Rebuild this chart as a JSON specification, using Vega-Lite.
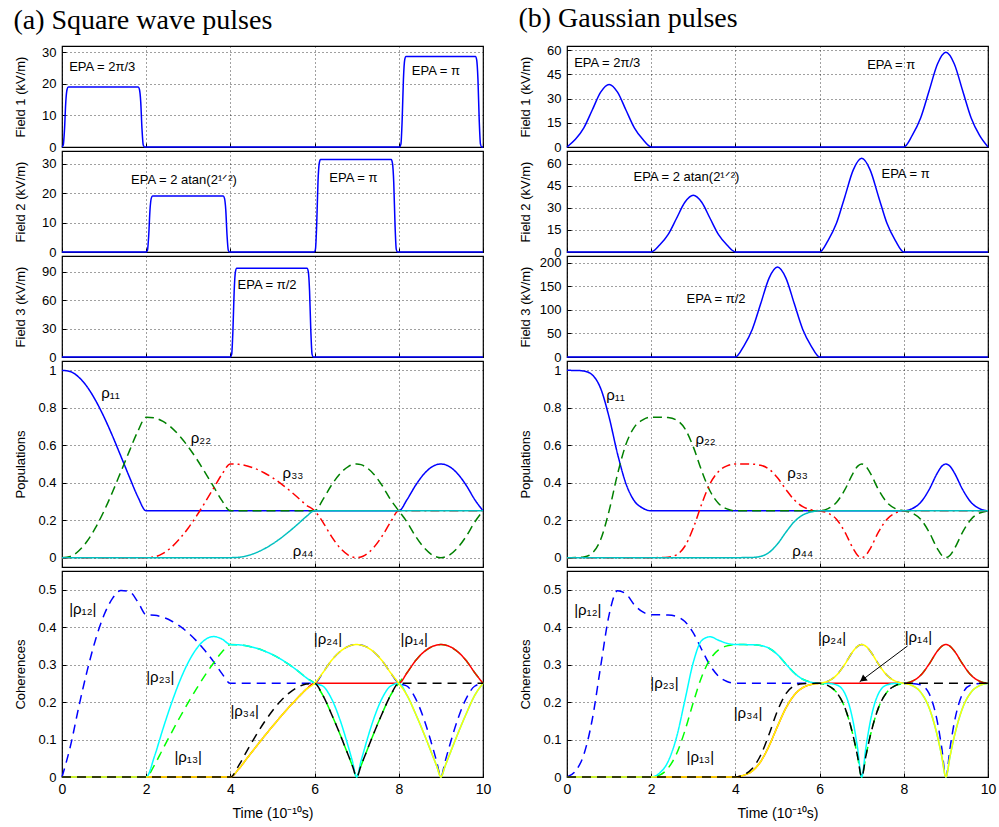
{
"$schema": "https://vega.github.io/schema/vega-lite/v6.json",
"padding": {"top": 5, "left": 13, "right": 5, "bottom": 5},
"spacing": 26,
"resolve": {"scale": {"color": "independent", "strokeDash": "independent"}},
"datasets": {
"fa": [
{"f":"F1","t":0,"v":0},{"f":"F1","t":0.03,"v":0.6},{"f":"F1","t":0.06,"v":5.7},{"f":"F1","t":0.09,"v":14.3},{"f":"F1","t":0.12,"v":18.2},{"f":"F1","t":0.15,"v":19},{"f":"F1","t":1.81,"v":19},{"f":"F1","t":1.84,"v":18.2},{"f":"F1","t":1.87,"v":14.3},{"f":"F1","t":1.9,"v":5.7},{"f":"F1","t":1.93,"v":0.6},{"f":"F1","t":1.96,"v":0},{"f":"F1","t":8.02,"v":0},{"f":"F1","t":8.05,"v":0.9},{"f":"F1","t":8.08,"v":8.6},{"f":"F1","t":8.11,"v":21.5},{"f":"F1","t":8.14,"v":27.6},{"f":"F1","t":8.17,"v":28.7},{"f":"F1","t":9.82,"v":28.7},{"f":"F1","t":9.85,"v":27.6},{"f":"F1","t":9.88,"v":21.5},{"f":"F1","t":9.91,"v":8.6},{"f":"F1","t":9.94,"v":0.9},{"f":"F1","t":9.97,"v":0},{"f":"F1","t":10,"v":0},
{"f":"F2","t":0,"v":0},{"f":"F2","t":2.0,"v":0},{"f":"F2","t":2.03,"v":0.6},{"f":"F2","t":2.06,"v":5.7},{"f":"F2","t":2.09,"v":14.3},{"f":"F2","t":2.12,"v":18.2},{"f":"F2","t":2.15,"v":19},{"f":"F2","t":3.83,"v":19},{"f":"F2","t":3.86,"v":18.2},{"f":"F2","t":3.89,"v":14.3},{"f":"F2","t":3.92,"v":5.7},{"f":"F2","t":3.95,"v":0.6},{"f":"F2","t":3.98,"v":0},{"f":"F2","t":5.99,"v":0},{"f":"F2","t":6.02,"v":0.9},{"f":"F2","t":6.05,"v":9.4},{"f":"F2","t":6.08,"v":23.6},{"f":"F2","t":6.11,"v":30.1},{"f":"F2","t":6.14,"v":31.4},{"f":"F2","t":7.82,"v":31.4},{"f":"F2","t":7.85,"v":30.1},{"f":"F2","t":7.88,"v":23.6},{"f":"F2","t":7.91,"v":9.4},{"f":"F2","t":7.94,"v":0.9},{"f":"F2","t":7.97,"v":0},{"f":"F2","t":10,"v":0},
{"f":"F3","t":0,"v":0},{"f":"F3","t":4.0,"v":0},{"f":"F3","t":4.03,"v":2.8},{"f":"F3","t":4.06,"v":28},{"f":"F3","t":4.09,"v":70},{"f":"F3","t":4.12,"v":90},{"f":"F3","t":4.15,"v":93.5},{"f":"F3","t":5.82,"v":93.5},{"f":"F3","t":5.85,"v":90},{"f":"F3","t":5.88,"v":70},{"f":"F3","t":5.91,"v":28},{"f":"F3","t":5.94,"v":2.8},{"f":"F3","t":5.97,"v":0},{"f":"F3","t":10,"v":0}
],
"fb": [
{"f":"F1","t":0,"v":0},{"f":"F1","t":0.2,"v":4.73},{"f":"F1","t":0.4,"v":11.86},{"f":"F1","t":0.6,"v":22.9},{"f":"F1","t":0.8,"v":33.98},{"f":"F1","t":1.0,"v":38.75},{"f":"F1","t":1.2,"v":33.98},{"f":"F1","t":1.4,"v":22.9},{"f":"F1","t":1.6,"v":11.86},{"f":"F1","t":1.8,"v":4.73},{"f":"F1","t":2.0,"v":0},{"f":"F1","t":8.0,"v":0},{"f":"F1","t":8.2,"v":7.15},{"f":"F1","t":8.4,"v":17.93},{"f":"F1","t":8.6,"v":34.63},{"f":"F1","t":8.8,"v":51.39},{"f":"F1","t":9.0,"v":58.6},{"f":"F1","t":9.2,"v":51.39},{"f":"F1","t":9.4,"v":34.63},{"f":"F1","t":9.6,"v":17.93},{"f":"F1","t":9.8,"v":7.15},{"f":"F1","t":10,"v":0},
{"f":"F2","t":0,"v":0},{"f":"F2","t":2.0,"v":0},{"f":"F2","t":2.2,"v":4.7},{"f":"F2","t":2.4,"v":11.78},{"f":"F2","t":2.6,"v":22.75},{"f":"F2","t":2.8,"v":33.76},{"f":"F2","t":3.0,"v":38.5},{"f":"F2","t":3.2,"v":33.76},{"f":"F2","t":3.4,"v":22.75},{"f":"F2","t":3.6,"v":11.78},{"f":"F2","t":3.8,"v":4.7},{"f":"F2","t":4.0,"v":0},{"f":"F2","t":6.0,"v":0},{"f":"F2","t":6.2,"v":7.76},{"f":"F2","t":6.4,"v":19.46},{"f":"F2","t":6.6,"v":37.59},{"f":"F2","t":6.8,"v":55.78},{"f":"F2","t":7.0,"v":63.6},{"f":"F2","t":7.2,"v":55.78},{"f":"F2","t":7.4,"v":37.59},{"f":"F2","t":7.6,"v":19.46},{"f":"F2","t":7.8,"v":7.76},{"f":"F2","t":8.0,"v":0},{"f":"F2","t":10,"v":0},
{"f":"F3","t":0,"v":0},{"f":"F3","t":4.0,"v":0},{"f":"F3","t":4.2,"v":23.25},{"f":"F3","t":4.4,"v":58.32},{"f":"F3","t":4.6,"v":112.6},{"f":"F3","t":4.8,"v":167.2},{"f":"F3","t":5.0,"v":190.6},{"f":"F3","t":5.2,"v":167.2},{"f":"F3","t":5.4,"v":112.6},{"f":"F3","t":5.6,"v":58.32},{"f":"F3","t":5.8,"v":23.25},{"f":"F3","t":6.0,"v":0},{"f":"F3","t":10,"v":0}
],
"A": [
{"t":0,"p11":1,"p22":0,"p33":0,"p44":0,"c12":0,"c13":0,"c14":0,"c23":0,"c24":0,"c34":0},
{"t":0.2,"p11":0.9932,"p22":0.0068,"p33":0,"p44":0,"c12":0.0823,"c13":0,"c14":0,"c23":0,"c24":0,"c34":0},
{"t":0.4,"p11":0.9633,"p22":0.0367,"p33":0,"p44":0,"c12":0.188,"c13":0,"c14":0,"c23":0,"c24":0,"c34":0},
{"t":0.6,"p11":0.9112,"p22":0.0888,"p33":0,"p44":0,"c12":0.2845,"c13":0,"c14":0,"c23":0,"c24":0,"c34":0},
{"t":0.8,"p11":0.8385,"p22":0.1615,"p33":0,"p44":0,"c12":0.368,"c13":0,"c14":0,"c23":0,"c24":0,"c34":0},
{"t":1.0,"p11":0.75,"p22":0.25,"p33":0,"p44":0,"c12":0.433,"c13":0,"c14":0,"c23":0,"c24":0,"c34":0},
{"t":1.2,"p11":0.6495,"p22":0.3505,"p33":0,"p44":0,"c12":0.477,"c13":0,"c14":0,"c23":0,"c24":0,"c34":0},
{"t":1.4,"p11":0.5407,"p22":0.4593,"p33":0,"p44":0,"c12":0.498,"c13":0,"c14":0,"c23":0,"c24":0,"c34":0},
{"t":1.6,"p11":0.4312,"p22":0.5688,"p33":0,"p44":0,"c12":0.495,"c13":0,"c14":0,"c23":0,"c24":0,"c34":0},
{"t":1.8,"p11":0.3256,"p22":0.6744,"p33":0,"p44":0,"c12":0.468,"c13":0,"c14":0,"c23":0,"c24":0,"c34":0},
{"t":2.0,"p11":0.25,"p22":0.75,"p33":0,"p44":0,"c12":0.433,"c13":0,"c14":0,"c23":0,"c24":0,"c34":0},
{"t":2.2,"p11":0.25,"p22":0.7457,"p33":0.0043,"p44":0,"c12":0.4318,"c13":0.0328,"c14":0,"c23":0.0564,"c24":0,"c34":0},
{"t":2.4,"p11":0.25,"p22":0.7271,"p33":0.0229,"p44":0,"c12":0.4264,"c13":0.0757,"c14":0,"c23":0.1292,"c24":0,"c34":0},
{"t":2.6,"p11":0.25,"p22":0.6943,"p33":0.0557,"p44":0,"c12":0.4166,"c13":0.118,"c14":0,"c23":0.1967,"c24":0,"c34":0},
{"t":2.8,"p11":0.25,"p22":0.6482,"p33":0.1018,"p44":0,"c12":0.4026,"c13":0.1595,"c14":0,"c23":0.2569,"c24":0,"c34":0},
{"t":3.0,"p11":0.25,"p22":0.5915,"p33":0.1585,"p44":0,"c12":0.3846,"c13":0.199,"c14":0,"c23":0.3062,"c24":0,"c34":0},
{"t":3.2,"p11":0.25,"p22":0.5261,"p33":0.2239,"p44":0,"c12":0.3627,"c13":0.2366,"c14":0,"c23":0.3432,"c24":0,"c34":0},
{"t":3.4,"p11":0.25,"p22":0.4541,"p33":0.2959,"p44":0,"c12":0.3369,"c13":0.272,"c14":0,"c23":0.3666,"c24":0,"c34":0},
{"t":3.6,"p11":0.25,"p22":0.3795,"p33":0.3705,"p44":0,"c12":0.308,"c13":0.3043,"c14":0,"c23":0.375,"c24":0,"c34":0},
{"t":3.8,"p11":0.25,"p22":0.3046,"p33":0.4454,"p44":0,"c12":0.276,"c13":0.3337,"c14":0,"c23":0.3683,"c24":0,"c34":0},
{"t":4.0,"p11":0.25,"p22":0.25,"p33":0.5,"p44":0,"c12":0.25,"c13":0.3536,"c14":0,"c23":0.3536,"c24":0,"c34":0},
{"t":4.2,"p11":0.25,"p22":0.25,"p33":0.4981,"p44":0.0019,"c12":0.25,"c13":0.3529,"c14":0.0218,"c23":0.3529,"c24":0.0218,"c34":0.0309},
{"t":4.4,"p11":0.25,"p22":0.25,"p33":0.4897,"p44":0.0103,"c12":0.25,"c13":0.3499,"c14":0.0507,"c23":0.3499,"c24":0.0507,"c34":0.0713},
{"t":4.6,"p11":0.25,"p22":0.25,"p33":0.4747,"p44":0.0253,"c12":0.25,"c13":0.3445,"c14":0.0795,"c23":0.3445,"c24":0.0795,"c34":0.1097},
{"t":4.8,"p11":0.25,"p22":0.25,"p33":0.4534,"p44":0.0466,"c12":0.25,"c13":0.3367,"c14":0.1079,"c23":0.3367,"c24":0.1079,"c34":0.1454},
{"t":5.0,"p11":0.25,"p22":0.25,"p33":0.4268,"p44":0.0732,"c12":0.25,"c13":0.3267,"c14":0.1353,"c23":0.3267,"c24":0.1353,"c34":0.1768},
{"t":5.2,"p11":0.25,"p22":0.25,"p33":0.3953,"p44":0.1047,"c12":0.25,"c13":0.3144,"c14":0.1618,"c23":0.3144,"c24":0.1618,"c34":0.2035},
{"t":5.4,"p11":0.25,"p22":0.25,"p33":0.3596,"p44":0.1404,"c12":0.25,"c13":0.2998,"c14":0.1873,"c23":0.2998,"c24":0.1873,"c34":0.2247},
{"t":5.6,"p11":0.25,"p22":0.25,"p33":0.3212,"p44":0.1788,"c12":0.25,"c13":0.2834,"c14":0.2114,"c23":0.2834,"c24":0.2114,"c34":0.2396},
{"t":5.8,"p11":0.25,"p22":0.25,"p33":0.2811,"p44":0.2189,"c12":0.25,"c13":0.2651,"c14":0.2339,"c23":0.2651,"c24":0.2339,"c34":0.2481},
{"t":6.0,"p11":0.25,"p22":0.25,"p33":0.25,"p44":0.25,"c12":0.25,"c13":0.25,"c14":0.25,"c23":0.25,"c24":0.25,"c34":0.25},
{"t":6.2,"p11":0.25,"p22":0.3114,"p33":0.1886,"p44":0.25,"c12":0.2791,"c13":0.2172,"c14":0.25,"c23":0.2423,"c24":0.2791,"c34":0.2172},
{"t":6.4,"p11":0.25,"p22":0.3866,"p33":0.1134,"p44":0.25,"c12":0.3109,"c13":0.1684,"c14":0.25,"c23":0.2094,"c24":0.3109,"c34":0.1684},
{"t":6.6,"p11":0.25,"p22":0.4471,"p33":0.0529,"p44":0.25,"c12":0.3343,"c13":0.115,"c14":0.25,"c23":0.1538,"c24":0.3343,"c34":0.115},
{"t":6.8,"p11":0.25,"p22":0.4865,"p33":0.0135,"p44":0.25,"c12":0.3488,"c13":0.0581,"c14":0.25,"c23":0.0811,"c24":0.3488,"c34":0.0581},
{"t":6.9,"p11":0.25,"p22":0.4966,"p33":0.0034,"p44":0.25,"c12":0.3523,"c13":0.0293,"c14":0.25,"c23":0.0413,"c24":0.3523,"c34":0.0293},
{"t":7.0,"p11":0.25,"p22":0.5,"p33":0,"p44":0.25,"c12":0.3536,"c13":0,"c14":0.25,"c23":0,"c24":0.3536,"c34":0},
{"t":7.1,"p11":0.25,"p22":0.4966,"p33":0.0034,"p44":0.25,"c12":0.3523,"c13":0.0293,"c14":0.25,"c23":0.0413,"c24":0.3523,"c34":0.0293},
{"t":7.2,"p11":0.25,"p22":0.4865,"p33":0.0135,"p44":0.25,"c12":0.3488,"c13":0.0581,"c14":0.25,"c23":0.0811,"c24":0.3488,"c34":0.0581},
{"t":7.4,"p11":0.25,"p22":0.4471,"p33":0.0529,"p44":0.25,"c12":0.3343,"c13":0.115,"c14":0.25,"c23":0.1538,"c24":0.3343,"c34":0.115},
{"t":7.6,"p11":0.25,"p22":0.3866,"p33":0.1134,"p44":0.25,"c12":0.3109,"c13":0.1684,"c14":0.25,"c23":0.2094,"c24":0.3109,"c34":0.1684},
{"t":7.8,"p11":0.25,"p22":0.3114,"p33":0.1886,"p44":0.25,"c12":0.2791,"c13":0.2172,"c14":0.25,"c23":0.2423,"c24":0.2791,"c34":0.2172},
{"t":8.0,"p11":0.25,"p22":0.25,"p33":0.25,"p44":0.25,"c12":0.25,"c13":0.25,"c14":0.25,"c23":0.25,"c24":0.25,"c34":0.25},
{"t":8.2,"p11":0.3114,"p22":0.1886,"p33":0.25,"p44":0.25,"c12":0.2423,"c13":0.2791,"c14":0.2791,"c23":0.2172,"c24":0.2172,"c34":0.25},
{"t":8.4,"p11":0.3866,"p22":0.1134,"p33":0.25,"p44":0.25,"c12":0.2094,"c13":0.3109,"c14":0.3109,"c23":0.1684,"c24":0.1684,"c34":0.25},
{"t":8.6,"p11":0.4471,"p22":0.0529,"p33":0.25,"p44":0.25,"c12":0.1538,"c13":0.3343,"c14":0.3343,"c23":0.115,"c24":0.115,"c34":0.25},
{"t":8.8,"p11":0.4865,"p22":0.0135,"p33":0.25,"p44":0.25,"c12":0.0811,"c13":0.3488,"c14":0.3488,"c23":0.0581,"c24":0.0581,"c34":0.25},
{"t":8.9,"p11":0.4966,"p22":0.0034,"p33":0.25,"p44":0.25,"c12":0.0413,"c13":0.3523,"c14":0.3523,"c23":0.0293,"c24":0.0293,"c34":0.25},
{"t":9.0,"p11":0.5,"p22":0,"p33":0.25,"p44":0.25,"c12":0,"c13":0.3536,"c14":0.3536,"c23":0,"c24":0,"c34":0.25},
{"t":9.1,"p11":0.4966,"p22":0.0034,"p33":0.25,"p44":0.25,"c12":0.0413,"c13":0.3523,"c14":0.3523,"c23":0.0293,"c24":0.0293,"c34":0.25},
{"t":9.2,"p11":0.4865,"p22":0.0135,"p33":0.25,"p44":0.25,"c12":0.0811,"c13":0.3488,"c14":0.3488,"c23":0.0581,"c24":0.0581,"c34":0.25},
{"t":9.4,"p11":0.4471,"p22":0.0529,"p33":0.25,"p44":0.25,"c12":0.1538,"c13":0.3343,"c14":0.3343,"c23":0.115,"c24":0.115,"c34":0.25},
{"t":9.6,"p11":0.3866,"p22":0.1134,"p33":0.25,"p44":0.25,"c12":0.2094,"c13":0.3109,"c14":0.3109,"c23":0.1684,"c24":0.1684,"c34":0.25},
{"t":9.8,"p11":0.3114,"p22":0.1886,"p33":0.25,"p44":0.25,"c12":0.2423,"c13":0.2791,"c14":0.2791,"c23":0.2172,"c24":0.2172,"c34":0.25},
{"t":10.0,"p11":0.25,"p22":0.25,"p33":0.25,"p44":0.25,"c12":0.25,"c13":0.25,"c14":0.25,"c23":0.25,"c24":0.25,"c34":0.25}
],
"B": [
{"t":0,"p11":1,"p22":0,"p33":0,"p44":0,"c12":0,"c13":0,"c14":0,"c23":0,"c24":0,"c34":0},
{"t":0.2,"p11":0.9998,"p22":0.0002,"p33":0,"p44":0,"c12":0.0157,"c13":0,"c14":0,"c23":0,"c24":0,"c34":0},
{"t":0.4,"p11":0.9964,"p22":0.0036,"p33":0,"p44":0,"c12":0.06,"c13":0,"c14":0,"c23":0,"c24":0,"c34":0},
{"t":0.6,"p11":0.9759,"p22":0.0241,"p33":0,"p44":0,"c12":0.1535,"c13":0,"c14":0,"c23":0,"c24":0,"c34":0},
{"t":0.8,"p11":0.9032,"p22":0.0968,"p33":0,"p44":0,"c12":0.2957,"c13":0,"c14":0,"c23":0,"c24":0,"c34":0},
{"t":1.0,"p11":0.75,"p22":0.25,"p33":0,"p44":0,"c12":0.433,"c13":0,"c14":0,"c23":0,"c24":0,"c34":0},
{"t":1.2,"p11":0.5544,"p22":0.4456,"p33":0,"p44":0,"c12":0.497,"c13":0,"c14":0,"c23":0,"c24":0,"c34":0},
{"t":1.4,"p11":0.3951,"p22":0.6049,"p33":0,"p44":0,"c12":0.4889,"c13":0,"c14":0,"c23":0,"c24":0,"c34":0},
{"t":1.6,"p11":0.3028,"p22":0.6972,"p33":0,"p44":0,"c12":0.4596,"c13":0,"c14":0,"c23":0,"c24":0,"c34":0},
{"t":1.8,"p11":0.2642,"p22":0.7358,"p33":0,"p44":0,"c12":0.4406,"c13":0,"c14":0,"c23":0,"c24":0,"c34":0},
{"t":2.0,"p11":0.25,"p22":0.75,"p33":0,"p44":0,"c12":0.433,"c13":0,"c14":0,"c23":0,"c24":0,"c34":0},
{"t":2.2,"p11":0.25,"p22":0.7499,"p33":0.0001,"p44":0,"c12":0.433,"c13":0.005,"c14":0,"c23":0.0107,"c24":0,"c34":0},
{"t":2.4,"p11":0.25,"p22":0.7478,"p33":0.0022,"p44":0,"c12":0.4324,"c13":0.0235,"c14":0,"c23":0.041,"c24":0,"c34":0},
{"t":2.6,"p11":0.25,"p22":0.7349,"p33":0.0151,"p44":0,"c12":0.4286,"c13":0.0614,"c14":0,"c23":0.1053,"c24":0,"c34":0},
{"t":2.8,"p11":0.25,"p22":0.6893,"p33":0.0607,"p44":0,"c12":0.4151,"c13":0.1232,"c14":0,"c23":0.2046,"c24":0,"c34":0},
{"t":3.0,"p11":0.25,"p22":0.5915,"p33":0.1585,"p44":0,"c12":0.3846,"c13":0.199,"c14":0,"c23":0.3062,"c24":0,"c34":0},
{"t":3.2,"p11":0.25,"p22":0.4631,"p33":0.2869,"p44":0,"c12":0.3403,"c13":0.2678,"c14":0,"c23":0.3645,"c24":0,"c34":0},
{"t":3.4,"p11":0.25,"p22":0.3544,"p33":0.3956,"p44":0,"c12":0.2977,"c13":0.3145,"c14":0,"c23":0.3744,"c24":0,"c34":0},
{"t":3.6,"p11":0.25,"p22":0.2896,"p33":0.4604,"p44":0,"c12":0.2691,"c13":0.3393,"c14":0,"c23":0.365,"c24":0,"c34":0},
{"t":3.8,"p11":0.25,"p22":0.2601,"p33":0.4899,"p44":0,"c12":0.255,"c13":0.35,"c14":0,"c23":0.3569,"c24":0,"c34":0},
{"t":4.0,"p11":0.25,"p22":0.25,"p33":0.5,"p44":0,"c12":0.25,"c13":0.3536,"c14":0,"c23":0.3536,"c24":0,"c34":0},
{"t":4.2,"p11":0.25,"p22":0.25,"p33":0.4999,"p44":0.0001,"c12":0.25,"c13":0.3535,"c14":0.005,"c23":0.3535,"c24":0.005,"c34":0.0059},
{"t":4.4,"p11":0.25,"p22":0.25,"p33":0.499,"p44":0.001,"c12":0.25,"c13":0.3532,"c14":0.0158,"c23":0.3532,"c24":0.0158,"c34":0.0225},
{"t":4.6,"p11":0.25,"p22":0.25,"p33":0.4932,"p44":0.0068,"c12":0.25,"c13":0.3511,"c14":0.0412,"c23":0.3511,"c24":0.0412,"c34":0.058},
{"t":4.8,"p11":0.25,"p22":0.25,"p33":0.4724,"p44":0.0276,"c12":0.25,"c13":0.3437,"c14":0.0831,"c23":0.3437,"c24":0.0831,"c34":0.1142},
{"t":5.0,"p11":0.25,"p22":0.25,"p33":0.4268,"p44":0.0732,"c12":0.25,"c13":0.3267,"c14":0.1353,"c23":0.3267,"c24":0.1353,"c34":0.1768},
{"t":5.2,"p11":0.25,"p22":0.25,"p33":0.3642,"p44":0.1358,"c12":0.25,"c13":0.3017,"c14":0.1842,"c23":0.3017,"c24":0.1842,"c34":0.2224},
{"t":5.4,"p11":0.25,"p22":0.25,"p33":0.308,"p44":0.192,"c12":0.25,"c13":0.2775,"c14":0.2191,"c23":0.2775,"c24":0.2191,"c34":0.2432},
{"t":5.6,"p11":0.25,"p22":0.25,"p33":0.2724,"p44":0.2276,"c12":0.25,"c13":0.261,"c14":0.2385,"c23":0.261,"c24":0.2385,"c34":0.249},
{"t":5.8,"p11":0.25,"p22":0.25,"p33":0.256,"p44":0.244,"c12":0.25,"c13":0.253,"c14":0.247,"c23":0.253,"c24":0.247,"c34":0.2499},
{"t":6.0,"p11":0.25,"p22":0.25,"p33":0.25,"p44":0.25,"c12":0.25,"c13":0.25,"c14":0.25,"c23":0.25,"c24":0.25,"c34":0.25},
{"t":6.2,"p11":0.25,"p22":0.2618,"p33":0.2382,"p44":0.25,"c12":0.2558,"c13":0.2441,"c14":0.25,"c23":0.2497,"c24":0.2558,"c34":0.2441},
{"t":6.4,"p11":0.25,"p22":0.2948,"p33":0.2052,"p44":0.25,"c12":0.2715,"c13":0.2265,"c14":0.25,"c23":0.246,"c24":0.2715,"c34":0.2265},
{"t":6.6,"p11":0.25,"p22":0.3628,"p33":0.1372,"p44":0.25,"c12":0.3012,"c13":0.1852,"c14":0.25,"c23":0.2231,"c24":0.3012,"c34":0.1852},
{"t":6.8,"p11":0.25,"p22":0.4532,"p33":0.0468,"p44":0.25,"c12":0.3366,"c13":0.1083,"c14":0.25,"c23":0.1457,"c24":0.3366,"c34":0.1083},
{"t":6.9,"p11":0.25,"p22":0.4873,"p33":0.0127,"p44":0.25,"c12":0.349,"c13":0.0564,"c14":0.25,"c23":0.0788,"c24":0.349,"c34":0.0564},
{"t":7.0,"p11":0.25,"p22":0.5,"p33":0,"p44":0.25,"c12":0.3536,"c13":0,"c14":0.25,"c23":0,"c24":0.3536,"c34":0},
{"t":7.1,"p11":0.25,"p22":0.4873,"p33":0.0127,"p44":0.25,"c12":0.349,"c13":0.0564,"c14":0.25,"c23":0.0788,"c24":0.349,"c34":0.0564},
{"t":7.2,"p11":0.25,"p22":0.4532,"p33":0.0468,"p44":0.25,"c12":0.3366,"c13":0.1083,"c14":0.25,"c23":0.1457,"c24":0.3366,"c34":0.1083},
{"t":7.4,"p11":0.25,"p22":0.3628,"p33":0.1372,"p44":0.25,"c12":0.3012,"c13":0.1852,"c14":0.25,"c23":0.2231,"c24":0.3012,"c34":0.1852},
{"t":7.6,"p11":0.25,"p22":0.2948,"p33":0.2052,"p44":0.25,"c12":0.2715,"c13":0.2265,"c14":0.25,"c23":0.246,"c24":0.2715,"c34":0.2265},
{"t":7.8,"p11":0.25,"p22":0.2618,"p33":0.2382,"p44":0.25,"c12":0.2558,"c13":0.2441,"c14":0.25,"c23":0.2497,"c24":0.2558,"c34":0.2441},
{"t":8.0,"p11":0.25,"p22":0.25,"p33":0.25,"p44":0.25,"c12":0.25,"c13":0.25,"c14":0.25,"c23":0.25,"c24":0.25,"c34":0.25},
{"t":8.2,"p11":0.2618,"p22":0.2382,"p33":0.25,"p44":0.25,"c12":0.2497,"c13":0.2558,"c14":0.2558,"c23":0.2441,"c24":0.2441,"c34":0.25},
{"t":8.4,"p11":0.2948,"p22":0.2052,"p33":0.25,"p44":0.25,"c12":0.246,"c13":0.2715,"c14":0.2715,"c23":0.2265,"c24":0.2265,"c34":0.25},
{"t":8.6,"p11":0.3628,"p22":0.1372,"p33":0.25,"p44":0.25,"c12":0.2231,"c13":0.3012,"c14":0.3012,"c23":0.1852,"c24":0.1852,"c34":0.25},
{"t":8.8,"p11":0.4532,"p22":0.0468,"p33":0.25,"p44":0.25,"c12":0.1457,"c13":0.3366,"c14":0.3366,"c23":0.1083,"c24":0.1083,"c34":0.25},
{"t":8.9,"p11":0.4873,"p22":0.0127,"p33":0.25,"p44":0.25,"c12":0.0788,"c13":0.349,"c14":0.349,"c23":0.0564,"c24":0.0564,"c34":0.25},
{"t":9.0,"p11":0.5,"p22":0,"p33":0.25,"p44":0.25,"c12":0,"c13":0.3536,"c14":0.3536,"c23":0,"c24":0,"c34":0.25},
{"t":9.1,"p11":0.4873,"p22":0.0127,"p33":0.25,"p44":0.25,"c12":0.0788,"c13":0.349,"c14":0.349,"c23":0.0564,"c24":0.0564,"c34":0.25},
{"t":9.2,"p11":0.4532,"p22":0.0468,"p33":0.25,"p44":0.25,"c12":0.1457,"c13":0.3366,"c14":0.3366,"c23":0.1083,"c24":0.1083,"c34":0.25},
{"t":9.4,"p11":0.3628,"p22":0.1372,"p33":0.25,"p44":0.25,"c12":0.2231,"c13":0.3012,"c14":0.3012,"c23":0.1852,"c24":0.1852,"c34":0.25},
{"t":9.6,"p11":0.2948,"p22":0.2052,"p33":0.25,"p44":0.25,"c12":0.246,"c13":0.2715,"c14":0.2715,"c23":0.2265,"c24":0.2265,"c34":0.25},
{"t":9.8,"p11":0.2618,"p22":0.2382,"p33":0.25,"p44":0.25,"c12":0.2497,"c13":0.2558,"c14":0.2558,"c23":0.2441,"c24":0.2441,"c34":0.25},
{"t":10.0,"p11":0.25,"p22":0.25,"p33":0.25,"p44":0.25,"c12":0.25,"c13":0.25,"c14":0.25,"c23":0.25,"c24":0.25,"c34":0.25}
]
},
"hconcat": [
{
"title": {"text": "(a) Square wave pulses", "anchor": "start", "font": "Liberation Serif", "fontSize": 28, "fontWeight": "normal", "color": "#000", "offset": 10},
"spacing": 4,
"bounds": "flush",
"resolve": {"scale": {"color": "independent", "strokeDash": "independent"}},
"vconcat": [
{"width": 421, "height": 101, "layer": [
 {"data": {"name": "fa"}, "transform": [{"filter": "datum.f == 'F1'"}], "mark": {"type": "line", "color": "#0000ff", "strokeWidth": 1.5, "interpolate": "monotone"},
  "encoding": {"x": {"field": "t", "type": "quantitative", "scale": {"domain": [0, 10], "nice": false}, "axis": {"values": [0, 2, 4, 6, 8, 10], "tickCount": 20, "labels": false, "title": null}},
   "y": {"field": "v", "type": "quantitative", "scale": {"domain": [0, 32], "nice": false}, "axis": {"values": [0, 10, 20, 30], "tickCount": 20, "format": "~r", "title": "Field 1 (kV/m)", "titleX": -35}}}},
 {"data": {"values": [{"t": 0.17, "v": 25.5, "s": "EPA = 2π/3"}, {"t": 8.31, "v": 24.2, "s": "EPA = π"}]}, "mark": {"type": "text", "align": "left", "baseline": "middle"},
  "encoding": {"x": {"field": "t", "type": "quantitative"}, "y": {"field": "v", "type": "quantitative"}, "text": {"field": "s"}}}
]},
{"width": 421, "height": 101, "layer": [
 {"data": {"name": "fa"}, "transform": [{"filter": "datum.f == 'F2'"}], "mark": {"type": "line", "color": "#0000ff", "strokeWidth": 1.5, "interpolate": "monotone"},
  "encoding": {"x": {"field": "t", "type": "quantitative", "scale": {"domain": [0, 10], "nice": false}, "axis": {"values": [0, 2, 4, 6, 8, 10], "tickCount": 20, "labels": false, "title": null}},
   "y": {"field": "v", "type": "quantitative", "scale": {"domain": [0, 34.3], "nice": false}, "axis": {"values": [0, 10, 20, 30], "tickCount": 20, "format": "~r", "title": "Field 2 (kV/m)", "titleX": -35}}}},
 {"data": {"values": [{"t": 1.64, "v": 24.6, "s": "EPA = 2 atan(2¹ᐟ²)"}, {"t": 6.35, "v": 25.2, "s": "EPA = π"}]}, "mark": {"type": "text", "align": "left", "baseline": "middle"},
  "encoding": {"x": {"field": "t", "type": "quantitative"}, "y": {"field": "v", "type": "quantitative"}, "text": {"field": "s"}}}
]},
{"width": 421, "height": 101, "layer": [
 {"data": {"name": "fa"}, "transform": [{"filter": "datum.f == 'F3'"}], "mark": {"type": "line", "color": "#0000ff", "strokeWidth": 1.5, "interpolate": "monotone"},
  "encoding": {"x": {"field": "t", "type": "quantitative", "scale": {"domain": [0, 10], "nice": false}, "axis": {"values": [0, 2, 4, 6, 8, 10], "tickCount": 20, "labels": false, "title": null}},
   "y": {"field": "v", "type": "quantitative", "scale": {"domain": [0, 106.5], "nice": false}, "axis": {"values": [0, 30, 60, 90], "tickCount": 20, "format": "~r", "title": "Field 3 (kV/m)", "titleX": -35}}}},
 {"data": {"values": [{"t": 4.17, "v": 75.8, "s": "EPA = π/2"}]}, "mark": {"type": "text", "align": "left", "baseline": "middle"},
  "encoding": {"x": {"field": "t", "type": "quantitative"}, "y": {"field": "v", "type": "quantitative"}, "text": {"field": "s"}}}
]},
{"width": 421, "height": 206, "layer": [
 {"data": {"name": "A"}, "transform": [{"fold": ["p11", "p22", "p33", "p44"], "as": ["k", "v"]}], "mark": {"type": "line", "strokeWidth": 1.5, "interpolate": "monotone"},
  "encoding": {"x": {"field": "t", "type": "quantitative", "scale": {"domain": [0, 10], "nice": false}, "axis": {"values": [0, 2, 4, 6, 8, 10], "tickCount": 20, "labels": false, "title": null}},
   "y": {"field": "v", "type": "quantitative", "scale": {"domain": [-0.05, 1.05], "nice": false, "zero": false}, "axis": {"values": [0, 0.2, 0.4, 0.6, 0.8, 1], "tickCount": 20, "format": "~r", "title": "Populations", "titleX": -35}},
   "color": {"field": "k", "type": "nominal", "scale": {"domain": ["p11", "p22", "p33", "p44"], "range": ["#0000ff", "#008000", "#ff0000", "#00bfbf"]}, "legend": null},
   "strokeDash": {"field": "k", "type": "nominal", "scale": {"domain": ["p11", "p22", "p33", "p44"], "range": [[1, 0], [9, 5], [9, 4, 2, 4], [1, 0]]}, "legend": null}}},
 {"data": {"values": [{"t": 0.93, "v": 0.88, "s": "ρ₁₁"}, {"t": 3.06, "v": 0.64, "s": "ρ₂₂"}, {"t": 5.24, "v": 0.453, "s": "ρ₃₃"}, {"t": 5.48, "v": 0.034, "s": "ρ₄₄"}]}, "mark": {"type": "text", "align": "left", "baseline": "middle", "fontSize": 15},
  "encoding": {"x": {"field": "t", "type": "quantitative"}, "y": {"field": "v", "type": "quantitative"}, "text": {"field": "s"}}}
]},
{"width": 421, "height": 206, "layer": [
 {"data": {"name": "A"}, "transform": [{"fold": ["c12", "c13", "c14", "c23", "c24", "c34"], "as": ["k", "v"]}], "mark": {"type": "line", "strokeWidth": 1.5, "interpolate": "monotone"},
  "encoding": {"x": {"field": "t", "type": "quantitative", "scale": {"domain": [0, 10], "nice": false}, "axis": {"values": [0, 2, 4, 6, 8, 10], "tickCount": 20, "format": "~r", "title": "Time (10⁻¹⁰s)"}},
   "y": {"field": "v", "type": "quantitative", "scale": {"domain": [0, 0.55], "nice": false}, "axis": {"values": [0, 0.1, 0.2, 0.3, 0.4, 0.5], "tickCount": 20, "format": "~r", "title": "Coherences", "titleX": -35}},
   "color": {"field": "k", "type": "nominal", "scale": {"domain": ["c12", "c13", "c14", "c23", "c24", "c34"], "range": ["#0000ff", "#00ff00", "#ff0000", "#00ffff", "#ffff00", "#000000"]}, "legend": null},
   "strokeDash": {"field": "k", "type": "nominal", "scale": {"domain": ["c12", "c13", "c14", "c23", "c24", "c34"], "range": [[9, 6], [9, 6], [1, 0], [1, 0], [1, 0], [9, 6]]}, "legend": null}}},
 {"data": {"values": [{"t": 0.17, "v": 0.448, "s": "|ρ₁₂|"}, {"t": 2.0, "v": 0.266, "s": "|ρ₂₃|"}, {"t": 2.67, "v": 0.053, "s": "|ρ₁₃|"}, {"t": 4.0, "v": 0.177, "s": "|ρ₃₄|"}, {"t": 5.98, "v": 0.368, "s": "|ρ₂₄|"}, {"t": 8.04, "v": 0.368, "s": "|ρ₁₄|"}]}, "mark": {"type": "text", "align": "left", "baseline": "middle", "fontSize": 15},
  "encoding": {"x": {"field": "t", "type": "quantitative"}, "y": {"field": "v", "type": "quantitative"}, "text": {"field": "s"}}}
]}
]
},
{
"title": {"text": "(b) Gaussian pulses", "anchor": "start", "font": "Liberation Serif", "fontSize": 28, "fontWeight": "normal", "color": "#000", "offset": 10},
"spacing": 4,
"bounds": "flush",
"resolve": {"scale": {"color": "independent", "strokeDash": "independent"}},
"vconcat": [
{"width": 421, "height": 101, "layer": [
 {"data": {"name": "fb"}, "transform": [{"filter": "datum.f == 'F1'"}], "mark": {"type": "line", "color": "#0000ff", "strokeWidth": 1.5, "interpolate": "monotone"},
  "encoding": {"x": {"field": "t", "type": "quantitative", "scale": {"domain": [0, 10], "nice": false}, "axis": {"values": [0, 2, 4, 6, 8, 10], "tickCount": 20, "labels": false, "title": null}},
   "y": {"field": "v", "type": "quantitative", "scale": {"domain": [0, 62.5], "nice": false}, "axis": {"values": [0, 15, 30, 45, 60], "tickCount": 20, "format": "~r", "title": "Field 1 (kV/m)", "titleX": -35}}}},
 {"data": {"values": [{"t": 0.17, "v": 51.7, "s": "EPA = 2π/3"}, {"t": 7.13, "v": 50.6, "s": "EPA = π"}]}, "mark": {"type": "text", "align": "left", "baseline": "middle"},
  "encoding": {"x": {"field": "t", "type": "quantitative"}, "y": {"field": "v", "type": "quantitative"}, "text": {"field": "s"}}}
]},
{"width": 421, "height": 101, "layer": [
 {"data": {"name": "fb"}, "transform": [{"filter": "datum.f == 'F2'"}], "mark": {"type": "line", "color": "#0000ff", "strokeWidth": 1.5, "interpolate": "monotone"},
  "encoding": {"x": {"field": "t", "type": "quantitative", "scale": {"domain": [0, 10], "nice": false}, "axis": {"values": [0, 2, 4, 6, 8, 10], "tickCount": 20, "labels": false, "title": null}},
   "y": {"field": "v", "type": "quantitative", "scale": {"domain": [0, 68.6], "nice": false}, "axis": {"values": [0, 15, 30, 45, 60], "tickCount": 20, "format": "~r", "title": "Field 2 (kV/m)", "titleX": -35}}}},
 {"data": {"values": [{"t": 1.58, "v": 51.1, "s": "EPA = 2 atan(2¹ᐟ²)"}, {"t": 7.47, "v": 52.7, "s": "EPA = π"}]}, "mark": {"type": "text", "align": "left", "baseline": "middle"},
  "encoding": {"x": {"field": "t", "type": "quantitative"}, "y": {"field": "v", "type": "quantitative"}, "text": {"field": "s"}}}
]},
{"width": 421, "height": 101, "layer": [
 {"data": {"name": "fb"}, "transform": [{"filter": "datum.f == 'F3'"}], "mark": {"type": "line", "color": "#0000ff", "strokeWidth": 1.5, "interpolate": "monotone"},
  "encoding": {"x": {"field": "t", "type": "quantitative", "scale": {"domain": [0, 10], "nice": false}, "axis": {"values": [0, 2, 4, 6, 8, 10], "tickCount": 20, "labels": false, "title": null}},
   "y": {"field": "v", "type": "quantitative", "scale": {"domain": [0, 214], "nice": false}, "axis": {"values": [0, 50, 100, 150, 200], "tickCount": 20, "format": "~r", "title": "Field 3 (kV/m)", "titleX": -35}}}},
 {"data": {"values": [{"t": 2.84, "v": 123.4, "s": "EPA = π/2"}]}, "mark": {"type": "text", "align": "left", "baseline": "middle"},
  "encoding": {"x": {"field": "t", "type": "quantitative"}, "y": {"field": "v", "type": "quantitative"}, "text": {"field": "s"}}}
]},
{"width": 421, "height": 206, "layer": [
 {"data": {"name": "B"}, "transform": [{"fold": ["p11", "p22", "p33", "p44"], "as": ["k", "v"]}], "mark": {"type": "line", "strokeWidth": 1.5, "interpolate": "monotone"},
  "encoding": {"x": {"field": "t", "type": "quantitative", "scale": {"domain": [0, 10], "nice": false}, "axis": {"values": [0, 2, 4, 6, 8, 10], "tickCount": 20, "labels": false, "title": null}},
   "y": {"field": "v", "type": "quantitative", "scale": {"domain": [-0.05, 1.05], "nice": false, "zero": false}, "axis": {"values": [0, 0.2, 0.4, 0.6, 0.8, 1], "tickCount": 20, "format": "~r", "title": "Populations", "titleX": -35}},
   "color": {"field": "k", "type": "nominal", "scale": {"domain": ["p11", "p22", "p33", "p44"], "range": ["#0000ff", "#008000", "#ff0000", "#00bfbf"]}, "legend": null},
   "strokeDash": {"field": "k", "type": "nominal", "scale": {"domain": ["p11", "p22", "p33", "p44"], "range": [[1, 0], [9, 5], [9, 4, 2, 4], [1, 0]]}, "legend": null}}},
 {"data": {"values": [{"t": 0.93, "v": 0.87, "s": "ρ₁₁"}, {"t": 3.05, "v": 0.635, "s": "ρ₂₂"}, {"t": 5.23, "v": 0.453, "s": "ρ₃₃"}, {"t": 5.35, "v": 0.034, "s": "ρ₄₄"}]}, "mark": {"type": "text", "align": "left", "baseline": "middle", "fontSize": 15},
  "encoding": {"x": {"field": "t", "type": "quantitative"}, "y": {"field": "v", "type": "quantitative"}, "text": {"field": "s"}}}
]},
{"width": 421, "height": 206, "layer": [
 {"data": {"name": "B"}, "transform": [{"fold": ["c12", "c13", "c14", "c23", "c24", "c34"], "as": ["k", "v"]}], "mark": {"type": "line", "strokeWidth": 1.5, "interpolate": "monotone"},
  "encoding": {"x": {"field": "t", "type": "quantitative", "scale": {"domain": [0, 10], "nice": false}, "axis": {"values": [0, 2, 4, 6, 8, 10], "tickCount": 20, "format": "~r", "title": "Time (10⁻¹⁰s)"}},
   "y": {"field": "v", "type": "quantitative", "scale": {"domain": [0, 0.55], "nice": false}, "axis": {"values": [0, 0.1, 0.2, 0.3, 0.4, 0.5], "tickCount": 20, "format": "~r", "title": "Coherences", "titleX": -35}},
   "color": {"field": "k", "type": "nominal", "scale": {"domain": ["c12", "c13", "c14", "c23", "c24", "c34"], "range": ["#0000ff", "#00ff00", "#ff0000", "#00ffff", "#ffff00", "#000000"]}, "legend": null},
   "strokeDash": {"field": "k", "type": "nominal", "scale": {"domain": ["c12", "c13", "c14", "c23", "c24", "c34"], "range": [[9, 6], [9, 6], [1, 0], [1, 0], [1, 0], [9, 6]]}, "legend": null}}},
 {"data": {"values": [{"t": 0.17, "v": 0.446, "s": "|ρ₁₂|"}, {"t": 1.98, "v": 0.251, "s": "|ρ₂₃|"}, {"t": 2.84, "v": 0.053, "s": "|ρ₁₃|"}, {"t": 3.96, "v": 0.171, "s": "|ρ₃₄|"}, {"t": 5.96, "v": 0.372, "s": "|ρ₂₄|"}, {"t": 8.02, "v": 0.375, "s": "|ρ₁₄|"}]}, "mark": {"type": "text", "align": "left", "baseline": "middle", "fontSize": 15},
  "encoding": {"x": {"field": "t", "type": "quantitative"}, "y": {"field": "v", "type": "quantitative"}, "text": {"field": "s"}}},
 {"data": {"values": [{"t": 8.09, "v": 0.35, "t2": 6.95, "v2": 0.254}]}, "mark": {"type": "rule", "color": "#000", "strokeWidth": 1},
  "encoding": {"x": {"field": "t", "type": "quantitative"}, "y": {"field": "v", "type": "quantitative"}, "x2": {"field": "t2"}, "y2": {"field": "v2"}}},
 {"data": {"values": [{"t": 7.045, "v": 0.262}]}, "mark": {"type": "point", "shape": "triangle", "angle": 233, "filled": true, "color": "#000", "size": 60, "opacity": 1},
  "encoding": {"x": {"field": "t", "type": "quantitative"}, "y": {"field": "v", "type": "quantitative"}}}
]}
]
}
],
"config": {
 "view": {"stroke": "#000", "strokeWidth": 1.2},
 "font": "Liberation Sans",
 "axis": {"domain": false, "grid": true, "gridColor": "#000", "gridDash": [1, 3], "gridOpacity": 0.75, "gridWidth": 1, "ticks": true, "tickSize": -4, "tickColor": "#000", "labelFont": "Liberation Sans", "labelFontSize": 14, "labelColor": "#000", "labelFlush": false, "labelOverlap": false, "titleFont": "Liberation Sans", "titleFontSize": 13, "titleFontWeight": "normal", "titleColor": "#000", "minExtent": 0},
 "axisX": {"labelPadding": 9, "titlePadding": 10, "titleFontSize": 14},
 "axisY": {"labelPadding": 10, "labelFontSize": 13},
 "text": {"font": "Liberation Sans", "fontSize": 13, "color": "#000"}
}
}
